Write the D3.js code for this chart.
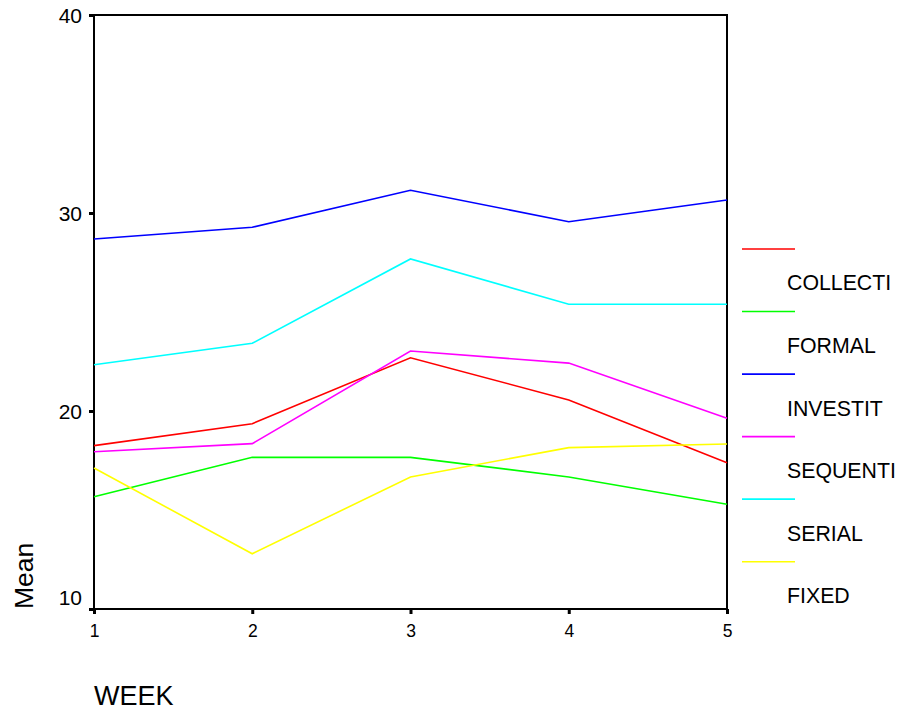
<!DOCTYPE html>
<html>
<head>
<meta charset="utf-8">
<script src="https://cdn.jsdelivr.net/npm/d3@7"></script>
<style>
  html, body { margin: 0; padding: 0; background: #fff; }
  svg { display: block; font-family: Arial, "Liberation Sans", sans-serif; }
</style>
</head>
<body>
<svg id="chart" width="903" height="716"></svg>
<script>
// ---- data ----
const weeks = [1, 2, 3, 4, 5];
const yTicks = [10, 20, 30, 40];
const seriesNames = ["COLLECTI", "FORMAL", "INVESTIT", "SEQUENTI", "SERIAL", "FIXED"];
const seriesColors = ["#ff0000", "#00ff00", "#0000ff", "#ff00ff", "#00ffff", "#ffff00"];
const collecti = [18.25, 19.36, 22.69, 20.56, 17.39];
const formal   = [15.67, 17.66, 17.66, 16.67, 15.29];
const investit = [28.69, 29.28, 31.15, 29.56, 30.66];
const sequenti = [17.94, 18.35, 23.03, 22.42, 19.63];
const serial   = [22.34, 23.42, 27.68, 25.39, 25.39];
const fixed    = [17.12, 12.79, 16.67, 18.15, 18.33];
const seriesValues = [collecti, formal, investit, sequenti, serial, fixed];

// ---- layout ----
const svg = d3.select("#chart");
const pLeft = 94, pRight = 727, pTop = 15, pBottom = 609;

const x = d3.scaleLinear().domain([1, 5]).range([pLeft, pRight]);
const y = d3.scaleLinear().domain([10, 40]).range([pBottom, pTop]);

// frame
svg.append("rect")
  .attr("x", pLeft).attr("y", pTop)
  .attr("width", pRight - pLeft).attr("height", pBottom - pTop)
  .attr("fill", "none").attr("stroke", "#000").attr("stroke-width", 2);

// y axis
const yAxis = d3.axisLeft(y).tickValues(yTicks).tickSize(5).tickPadding(7).tickFormat(d3.format("d"));
const gy = svg.append("g").attr("transform", `translate(${pLeft},0)`).call(yAxis);
gy.select(".domain").remove();
gy.selectAll(".tick line").attr("stroke", "#000").attr("stroke-width", 3);
gy.selectAll(".tick text")
  .attr("font-size", 21).attr("fill", "#000")
  .attr("dy", d => d === 10 ? "-0.22em" : "0.35em");

// x axis
const xAxis = d3.axisBottom(x).tickValues(weeks).tickSize(5).tickPadding(11).tickFormat(d3.format("d"));
const gx = svg.append("g").attr("transform", `translate(0,${pBottom})`).call(xAxis);
gx.select(".domain").remove();
gx.selectAll(".tick line").attr("stroke", "#000").attr("stroke-width", 3);
gx.selectAll(".tick text").attr("font-size", 17.5).attr("fill", "#000");

// axis titles
svg.append("text")
  .attr("x", pLeft).attr("y", 705)
  .attr("font-size", 27).attr("fill", "#000")
  .text("WEEK");
svg.append("text")
  .attr("transform", `translate(33,${pBottom}) rotate(-90)`)
  .attr("font-size", 26.5).attr("fill", "#000")
  .text("Mean");

// lines
const line = d3.line().x((d, i) => x(weeks[i])).y(d => y(d));
svg.append("g").selectAll("path")
  .data(seriesValues)
  .join("path")
  .attr("d", line)
  .attr("fill", "none")
  .attr("stroke", (d, i) => seriesColors[i])
  .attr("stroke-width", 1.6);

// legend
const legY = d3.scaleLinear().domain([0, 5]).range([249, 561.7]);
const leg = svg.append("g");
leg.selectAll("line")
  .data(seriesNames)
  .join("line")
  .attr("x1", 742).attr("x2", 795)
  .attr("y1", (d, i) => legY(i)).attr("y2", (d, i) => legY(i))
  .attr("stroke", (d, i) => seriesColors[i])
  .attr("stroke-width", 1.6);
leg.selectAll("text")
  .data(seriesNames)
  .join("text")
  .attr("x", 787)
  .attr("y", (d, i) => legY(i) + 34)
  .attr("dy", "0.35em")
  .attr("font-size", 21.3).attr("fill", "#000")
  .text(d => d);
</script>
</body>
</html>
